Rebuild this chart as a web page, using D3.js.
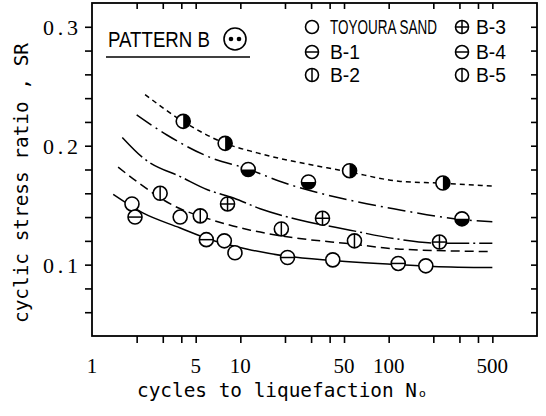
<!DOCTYPE html>
<html>
<head>
<meta charset="utf-8">
<script src="https://cdn.jsdelivr.net/npm/d3@7"></script>
<style>
  body { margin: 0; background: #fff; }
</style>
</head>
<body>
<div id="chart"></div>
<script>
// measured points, [cycles to liquefaction, cyclic stress ratio]
const toyouraPts = [[1.86, 0.151], [3.93, 0.140], [7.8, 0.120], [9.2, 0.110], [42, 0.104], [178, 0.099]];
const b1Pts = [[1.95, 0.140], [5.9, 0.121], [20.8, 0.106], [116, 0.101]];
const b2Pts = [[2.88, 0.160], [5.37, 0.141], [18.9, 0.130], [58.8, 0.120]];
const b3Pts = [[8.2, 0.151], [35.8, 0.139], [220, 0.119]];
const b4Pts = [[11.3, 0.180], [28.8, 0.1695], [312, 0.1385]];
const b5Pts = [[4.12, 0.2205], [7.9, 0.202], [54.5, 0.179], [232, 0.1686]];

// fitted curves
const curveSolid = [[1.39, 0.159], [2.2, 0.1435], [3.9, 0.131], [6.3, 0.121], [11.2, 0.113], [20.8, 0.107], [42, 0.1035], [115, 0.100], [200, 0.0985], [500, 0.0975]];
const curveDashed = [[1.5, 0.182], [2.05, 0.169], [3.5, 0.150], [6.3, 0.138], [11.7, 0.129], [21.8, 0.123], [55, 0.1175], [120, 0.113], [500, 0.111]];
const curveLongDash = [[1.6, 0.207], [2.2, 0.190], [4.1, 0.173], [6.0, 0.163], [9, 0.156], [13.6, 0.147], [24.3, 0.138], [55, 0.129], [108, 0.122], [225, 0.118], [500, 0.118]];
const curveDashDot = [[2.0, 0.226], [3.2, 0.209], [6.3, 0.190], [11.2, 0.1805], [19.5, 0.169], [47, 0.156], [108, 0.147], [307, 0.138], [500, 0.136]];
const curveDotted = [[2.28, 0.243], [4.1, 0.2205], [7.9, 0.202], [13, 0.194], [54, 0.178], [120, 0.170], [225, 0.1685], [500, 0.166]];

const xTickVals = [2, 3, 4, 5, 10, 20, 30, 40, 50, 100, 200, 300, 400, 500];
const xLabelVals = [1, 5, 10, 50, 100, 500];
const yTickVals = [0.06, 0.08, 0.10, 0.12, 0.14, 0.16, 0.18, 0.20, 0.22, 0.24, 0.26, 0.28, 0.30];
const yLabelVals = [0.1, 0.2, 0.3];

const legendLeft = [["TOYOURA SAND", "open"], ["B-1", "h"], ["B-2", "v"]];
const legendRight = [["B-3", "plus"], ["B-4", "h"], ["B-5", "v"]];

const W = 546, H = 416;
const plot = { left: 92, right: 537, top: 3, bottom: 336 };

const svg = d3.select("#chart").append("svg")
    .attr("width", W).attr("height", H)
    .style("background", "#fff");

const x = d3.scaleLog().domain([1, 1000]).range([plot.left, plot.right]);
const y = d3.scaleLinear().domain([0.04, 0.32]).range([plot.bottom, plot.top]);

// ticks: outward on bottom/left, inward on top/right
function tickAxis(axis, tx, ty) {
    const g = svg.append("g")
        .attr("transform", `translate(${tx},${ty})`)
        .call(axis);
    g.select(".domain").remove();
    g.selectAll("line").attr("stroke", "#000").attr("stroke-width", 1.6);
    return g;
}
tickAxis(d3.axisBottom(x).tickValues(xTickVals).tickSize(7).tickFormat(""), 0, plot.bottom);
tickAxis(d3.axisBottom(x).tickValues(xTickVals).tickSize(6).tickFormat(""), 0, plot.top);
tickAxis(d3.axisLeft(y).tickValues(yTickVals).tickSize(7).tickFormat(""), plot.left, 0);
tickAxis(d3.axisLeft(y).tickValues(yTickVals).tickSize(6).tickFormat(""), plot.right, 0);

// frame
svg.append("rect")
    .attr("x", plot.left).attr("y", plot.top)
    .attr("width", plot.right - plot.left).attr("height", plot.bottom - plot.top)
    .attr("fill", "none").attr("stroke", "#000").attr("stroke-width", 1.8);

// tick labels
svg.selectAll(".xlab").data(xLabelVals).enter().append("text")
    .attr("class", "xlab")
    .attr("x", d => x(d))
    .attr("y", 373)
    .attr("text-anchor", "middle")
    .style("font-family", "Liberation Serif")
    .style("font-size", "21px")
    .text(d => d);

svg.selectAll(".ylab").data(yLabelVals).enter().append("text")
    .attr("class", "ylab")
    .attr("x", 43)
    .attr("y", d => y(d) + 8)
    .attr("textLength", 35)
    .attr("lengthAdjust", "spacing")
    .style("font-family", "Liberation Serif")
    .style("font-size", "22px")
    .text(d => d.toFixed(1));

// axis titles
svg.append("text")
    .attr("x", 137).attr("y", 397)
    .attr("textLength", 280)
    .attr("lengthAdjust", "spacingAndGlyphs")
    .style("font-family", "DejaVu Sans Mono")
    .style("font-size", "19px")
    .text("cycles to liquefaction N");
svg.append("text")
    .attr("x", 419).attr("y", 397)
    .style("font-family", "DejaVu Sans")
    .style("font-size", "11px")
    .text("o");

svg.append("text")
    .attr("transform", "translate(28,183) rotate(-90)")
    .attr("x", -140).attr("y", 0)
    .attr("textLength", 280)
    .attr("lengthAdjust", "spacingAndGlyphs")
    .style("font-family", "DejaVu Sans Mono")
    .style("font-size", "19px")
    .text("cyclic stress ratio , SR");

// curves
const line = d3.line()
    .x(d => x(d[0]))
    .y(d => y(d[1]))
    .curve(d3.curveMonotoneX);

const curves = [
    [curveSolid, null],
    [curveDashed, "9,5"],
    [curveLongDash, "28,4,2,4"],
    [curveDashDot, "18,5,2,5"],
    [curveDotted, "5,4"]
];
curves.forEach(([pts, dash]) => {
    svg.append("path")
        .datum(pts)
        .attr("d", line)
        .attr("fill", "none")
        .attr("stroke", "#000")
        .attr("stroke-width", 1.5)
        .attr("stroke-dasharray", dash);
});

// markers
function marker(g, kind, cx, cy, r) {
    g.append("circle").attr("cx", cx).attr("cy", cy).attr("r", r).attr("fill", "#fff");
    if (kind === "bottom") {
        g.append("path")
            .attr("d", `M${cx - r},${cy} A${r},${r} 0 0 0 ${cx + r},${cy} Z`)
            .attr("fill", "#000");
    }
    if (kind === "right") {
        g.append("path")
            .attr("d", `M${cx},${cy - r} A${r},${r} 0 0 1 ${cx},${cy + r} Z`)
            .attr("fill", "#000");
    }
    if (kind === "h" || kind === "plus") {
        g.append("line").attr("x1", cx - r).attr("x2", cx + r).attr("y1", cy).attr("y2", cy)
            .attr("stroke", "#000").attr("stroke-width", 1.5);
    }
    if (kind === "v" || kind === "plus") {
        g.append("line").attr("x1", cx).attr("x2", cx).attr("y1", cy - r).attr("y2", cy + r)
            .attr("stroke", "#000").attr("stroke-width", 1.5);
    }
    g.append("circle").attr("cx", cx).attr("cy", cy).attr("r", r)
        .attr("fill", "none").attr("stroke", "#000").attr("stroke-width", 1.6);
}

const series = [
    [toyouraPts, "open"],
    [b1Pts, "h"],
    [b2Pts, "v"],
    [b3Pts, "plus"],
    [b4Pts, "bottom"],
    [b5Pts, "right"]
];
const markG = svg.append("g");
series.forEach(([pts, kind]) => {
    pts.forEach(d => marker(markG, kind, x(d[0]), y(d[1]), 7));
});

// narrow text: squeeze horizontally to a target width
function narrowText(g, str, tx, ty, targetW, size) {
    const t = g.append("text")
        .style("font-family", "Liberation Sans")
        .style("font-size", size + "px")
        .text(str);
    const natural = t.node().getComputedTextLength();
    t.attr("transform", `translate(${tx},${ty}) scale(${targetW / natural},1)`);
    return t;
}

// pattern label
narrowText(svg, "PATTERN B", 108, 47, 102, 22);
svg.append("circle").attr("cx", 235).attr("cy", 39).attr("r", 11)
    .attr("fill", "none").attr("stroke", "#000").attr("stroke-width", 1.6);
[-4, 4].forEach(dx => {
    svg.append("circle").attr("cx", 235 + dx).attr("cy", 39).attr("r", 2.3).attr("fill", "#000");
});
svg.append("line").attr("x1", 106).attr("x2", 250).attr("y1", 57).attr("y2", 57)
    .attr("stroke", "#000").attr("stroke-width", 1.6);

// legend
const rowY = [27, 52, 75];
const legG = svg.append("g");
function legendCol(items, mx, tx) {
    items.forEach(([label, kind], i) => {
        marker(legG, kind, mx, rowY[i], 6.5);
        narrowText(legG, label, tx, rowY[i] + 7, label.length > 3 ? 107 : 30, 20);
    });
}
legendCol(legendLeft, 312, 330);
legendCol(legendRight, 462, 476);
</script>
</body>
</html>
